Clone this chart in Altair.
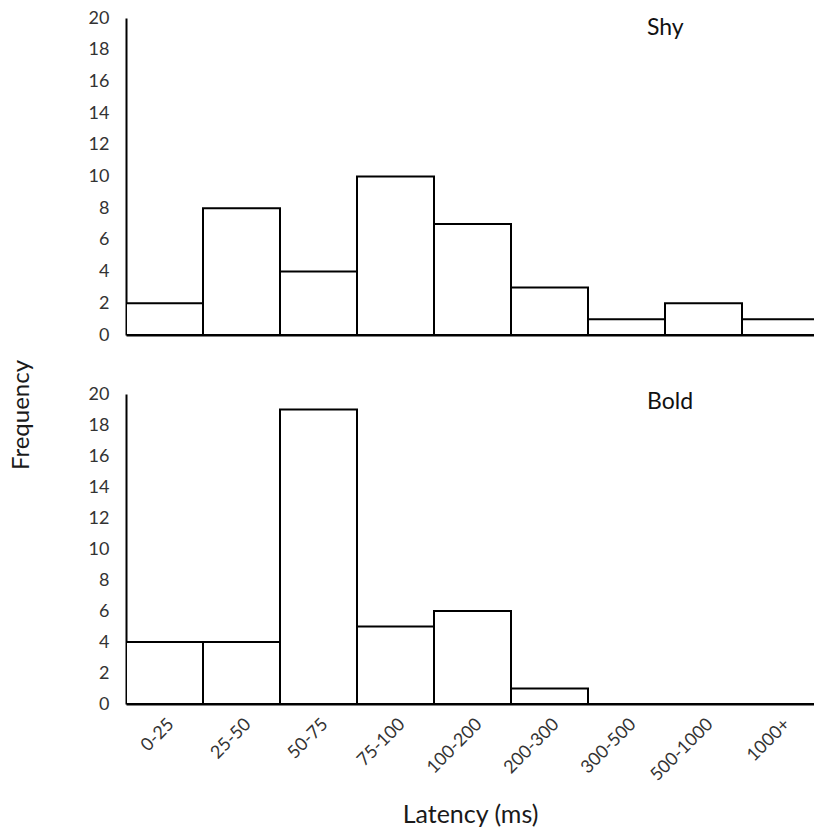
import altair as alt
import pandas as pd

# Latency bins and response counts for each personality type
latency_bins = ["0-25", "25-50", "50-75", "75-100", "100-200",
                "200-300", "300-500", "500-1000", "1000+"]
shy_counts = [2, 8, 4, 10, 7, 3, 1, 2, 1]
bold_counts = [4, 4, 19, 5, 6, 1, 0, 0, 0]
y_ticks = list(range(0, 21, 2))

FONT = "Lato"
BAND = 77          # pixels per latency bin
PLOT_W = 688
TOP_H = 317
BOTTOM_H = 310

x_max = PLOT_W / BAND
bin_centers = [i + 0.5 for i in range(len(latency_bins))]
label_expr = "[" + ",".join(f"'{b}'" for b in latency_bins) + "][floor(datum.value)]"


def bins_frame(counts):
    return pd.DataFrame({
        "bin": latency_bins,
        "start": list(range(len(latency_bins))),
        "end": [i + 1 for i in range(len(latency_bins))],
        "count": counts,
    })


def panel(counts, name, height, show_labels, title_y, extra=None):
    x_axis = alt.Axis(
        values=bin_centers,
        labels=show_labels,
        labelExpr=label_expr,
        labelAngle=-45,
        labelFont=FONT,
        labelFontSize=18,
        labelColor="#333333",
        labelPadding=11,
        ticks=False,
        grid=False,
        domainColor="black",
        domainWidth=2,
        title="Latency (ms)" if show_labels else None,
        titleFont=FONT,
        titleFontSize=25,
        titleFontWeight="normal",
        titleColor="#1a1a1a",
        titlePadding=18,
    )
    y_axis = alt.Axis(
        values=y_ticks,
        labelFont=FONT,
        labelFontSize=18,
        labelColor="#333333",
        labelPadding=17,
        ticks=False,
        grid=False,
        domainColor="black",
        domainWidth=2,
        title=None,
    )
    bars = alt.Chart(bins_frame(counts)).mark_bar(
        fill="white", stroke="black", strokeWidth=2, clip=True
    ).encode(
        x=alt.X("start:Q", scale=alt.Scale(domain=[0, x_max], nice=False, zero=False), axis=x_axis),
        x2="end:Q",
        y=alt.Y("count:Q", scale=alt.Scale(domain=[0, 20], nice=False), axis=y_axis),
        y2=alt.datum(0),
    )
    label = alt.Chart(pd.DataFrame({"t": [name]})).mark_text(
        align="left", baseline="alphabetic", font=FONT, fontSize=23, color="#111111"
    ).encode(x=alt.value(521), y=alt.value(title_y), text="t:N")
    layers = [bars, label]
    if extra is not None:
        layers.append(extra)
    return alt.layer(*layers).properties(width=PLOT_W, height=height)


# Shared y-axis title, drawn once beside both panels
freq_title = alt.Chart(pd.DataFrame({"t": ["Frequency"]})).mark_text(
    angle=270, align="center", baseline="middle", font=FONT, fontSize=24, color="#1a1a1a"
).encode(x=alt.value(-104), y=alt.value(397), text="t:N")

top = panel(shy_counts, "Shy", TOP_H, False, 17, extra=freq_title)
bottom = panel(bold_counts, "Bold", BOTTOM_H, True, 15)

chart = alt.vconcat(top, bottom, spacing=59, bounds="flush").properties(
    padding={"left": 10, "top": 9, "right": 0, "bottom": 0}
).configure_view(stroke=None)

chart.save("out.html", embed_options={"renderer": "svg", "actions": False})
